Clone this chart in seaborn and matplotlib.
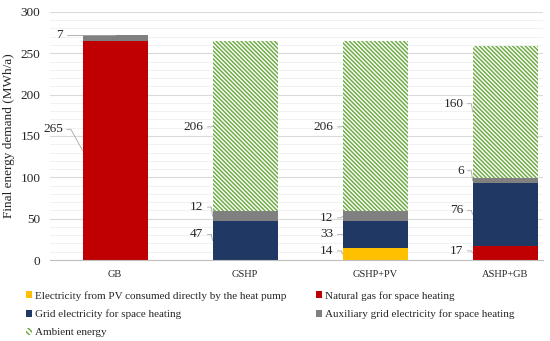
import numpy as np
import matplotlib
matplotlib.use("Agg")
import matplotlib.pyplot as plt
from matplotlib.patches import Patch
import seaborn as sns

# data (MWh/a)
scenarios = ["GB", "GSHP", "GSHP+PV", "ASHP+GB"]
pv_direct = [0, 0, 14, 0]
natural_gas = [265, 0, 0, 17]
grid_heating = [0, 47, 33, 76]
aux_grid = [7, 12, 12, 6]
ambient = [0, 206, 206, 160]

series_names = [
    "Electricity from PV consumed directly by the heat pump",
    "Natural gas for space heating",
    "Grid electricity for space heating",
    "Auxiliary grid electricity for space heating",
    "Ambient energy",
]
series_values = [pv_direct, natural_gas, grid_heating, aux_grid, ambient]
series_colors = ["#FFC000", "#C00000", "#1F3864", "#808080", "#70AD47"]

sns.set_style("white")
plt.rcParams["font.family"] = ["Liberation Serif", "DejaVu Serif"]
plt.rcParams["hatch.linewidth"] = 1.1

fig = plt.figure(figsize=(5.5, 3.41), dpi=100)
ax = fig.add_axes([0.091, 0.2375, 0.896, 0.7275])

hatch = "\\" * 8
bottom = np.zeros(len(scenarios))
for name, vals, col in zip(series_names, series_values, series_colors):
    if name == "Ambient energy":
        sns.barplot(x=scenarios, y=vals, bottom=bottom, width=0.5, ax=ax,
                    color="white", facecolor="white", edgecolor=col,
                    hatch=hatch, linewidth=0, saturation=1, errorbar=None)
    else:
        sns.barplot(x=scenarios, y=vals, bottom=bottom, width=0.5, ax=ax,
                    color=col, linewidth=0, saturation=1, errorbar=None)
    bottom = bottom + np.array(vals)

# data labels with leader lines (label y in data units)
label_pos = {
    (0, 1): 158, (0, 3): 272,
    (1, 4): 161, (1, 3): 64, (1, 2): 31,
    (2, 4): 161, (2, 3): 51, (2, 2): 31, (2, 0): 11,
    (3, 4): 189, (3, 3): 108, (3, 2): 60, (3, 1): 11,
}
cum = np.zeros(len(scenarios))
for si, vals in enumerate(series_values):
    for ci, v in enumerate(vals):
        if v == 0:
            continue
        mid = cum[ci] + v / 2
        ly = label_pos[(ci, si)]
        left = ci - 0.25
        gap = 0.15 if ci == 0 else 0.07
        tx = left - gap
        ax.text(tx, ly, str(v), ha="right", va="center", fontsize=9.5, color="#262626")
        if ci == 0 and si == 3:
            ax.plot([tx + 0.03, ci], [ly, cum[ci] + v], color="#a6a6a6", lw=0.6)
        else:
            ax.plot([tx + 0.03, tx + 0.06, left], [ly, ly, mid], color="#a6a6a6", lw=0.6)
    cum = cum + np.array(vals)

ax.set_ylim(0, 300)
ax.set_xlim(-0.5, 3.29)
ax.set_yticks(np.arange(0, 301, 50))
ax.set_yticks(np.arange(0, 301, 10), minor=True)
ax.grid(axis="y", which="major", color="#d9d9d9", lw=0.8)
ax.grid(axis="y", which="minor", color="#efefef", lw=0.6)
ax.set_axisbelow(True)
for s in ["top", "right", "left"]:
    ax.spines[s].set_visible(False)
ax.spines["bottom"].set_color("#bfbfbf")
ax.tick_params(axis="y", which="both", length=0, labelsize=9.5, colors="#262626", pad=7)
ax.tick_params(axis="x", which="major", length=0, labelsize=7.5, colors="#262626", pad=7)
ax.set_xticks([0.5, 1.5, 2.5], minor=True)
ax.tick_params(axis="x", which="minor", length=4, color="#bfbfbf", direction="out")
ax.set_ylabel("Final energy demand (MWh/a)", fontsize=9.5, color="#262626", labelpad=4)
ax.set_xlabel("")

handles = []
for name, col in zip(series_names, series_colors):
    if name == "Ambient energy":
        handles.append(Patch(facecolor="white", edgecolor=col, hatch="\\" * 6, linewidth=0, label=name))
    else:
        handles.append(Patch(facecolor=col, linewidth=0, label=name))
order = [0, 2, 4, 1, 3]
fig.legend([handles[i] for i in order], [series_names[i] for i in order],
           loc="upper left", bbox_to_anchor=(0.047, 0.147), ncol=2, frameon=False,
           fontsize=8, handlelength=0.55, handleheight=0.55, handletextpad=0.3,
           labelspacing=0.8, columnspacing=2.6, borderaxespad=0, borderpad=0)

fig.savefig("out.png", dpi=100)
